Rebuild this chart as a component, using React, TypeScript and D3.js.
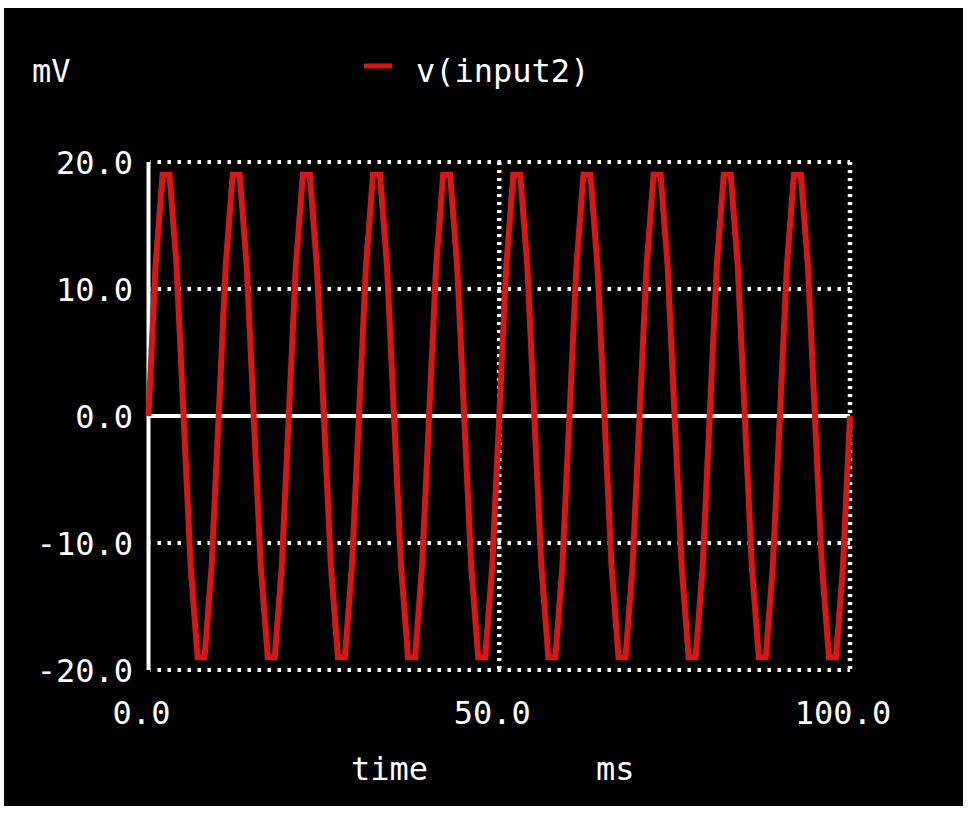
import React from "react";
import * as d3 from "d3";

// v(input2) in mV, sampled every 1 ms from 0 to 100 ms
const SAMPLE_STEP_MS = 1;
const VALUES = [
  0, 11.8, 19.0, 19.0, 11.8, 0, -11.8, -19.0, -19.0, -11.8,
  0, 11.8, 19.0, 19.0, 11.8, 0, -11.8, -19.0, -19.0, -11.8,
  0, 11.8, 19.0, 19.0, 11.8, 0, -11.8, -19.0, -19.0, -11.8,
  0, 11.8, 19.0, 19.0, 11.8, 0, -11.8, -19.0, -19.0, -11.8,
  0, 11.8, 19.0, 19.0, 11.8, 0, -11.8, -19.0, -19.0, -11.8,
  0, 11.8, 19.0, 19.0, 11.8, 0, -11.8, -19.0, -19.0, -11.8,
  0, 11.8, 19.0, 19.0, 11.8, 0, -11.8, -19.0, -19.0, -11.8,
  0, 11.8, 19.0, 19.0, 11.8, 0, -11.8, -19.0, -19.0, -11.8,
  0, 11.8, 19.0, 19.0, 11.8, 0, -11.8, -19.0, -19.0, -11.8,
  0, 11.8, 19.0, 19.0, 11.8, 0, -11.8, -19.0, -19.0, -11.8,
  0,
];
const Y_TICKS = [20, 10, 0, -10, -20];
const X_TICKS = [0, 50, 100];
const SERIES_NAME = "v(input2)";
const Y_UNIT = "mV";
const X_LABEL = "time";
const X_UNIT = "ms";

const W = 972;
const H = 814;
const FONT = "'DejaVu Sans Mono', 'Liberation Mono', monospace";
const FS = 32;
const RED = "#d81616";

export default function App() {
  const x = d3.scaleLinear().domain([0, 100]).range([148.5, 850]);
  const y = d3.scaleLinear().domain([-20, 20]).range([670, 162]);
  const line = d3
    .line<number>()
    .x((_, i) => x(i * SAMPLE_STEP_MS))
    .y((d) => y(d));

  return (
    <svg
      width={W}
      height={H}
      style={{ position: "absolute", left: 0, top: 0, background: "#fff" }}
    >
      <rect x={4} y={8} width={959} height={798} fill="#000" />
      {/* horizontal grid */}
      {Y_TICKS.filter((t) => t !== 0).map((t) => (
        <line
          key={"hy" + t}
          x1={x(0) + 2}
          x2={x(100)}
          y1={y(t)}
          y2={y(t)}
          stroke="#fff"
          strokeWidth={4}
          strokeDasharray="3.5 6.5"
          strokeDashoffset={-7}
        />
      ))}
      {/* vertical grid */}
      {X_TICKS.filter((t) => t !== 0).map((t) => (
        <line
          key={"vx" + t}
          x1={x(t)}
          x2={x(t)}
          y1={y(20)}
          y2={y(-20)}
          stroke="#fff"
          strokeWidth={4.5}
          strokeDasharray="3 5"
        />
      ))}
      {/* zero line and left axis */}
      <line x1={x(0)} x2={x(100)} y1={y(0)} y2={y(0)} stroke="#fff" strokeWidth={4} />
      <line x1={x(0)} x2={x(0)} y1={y(20)} y2={y(-20)} stroke="#fff" strokeWidth={4} />

      {/* series */}
      <path
        d={line(VALUES) || ""}
        fill="none"
        stroke={RED}
        strokeWidth={6}
        strokeLinejoin="miter"
      />

      {/* y tick labels */}
      {Y_TICKS.map((t) => (
        <text
          key={"yl" + t}
          x={133}
          y={y(t)}
          dy="0.36em"
          textAnchor="end"
          fill="#fff"
          fontFamily={FONT}
          fontSize={FS}
        >
          {t.toFixed(1)}
        </text>
      ))}
      {/* x tick labels */}
      {X_TICKS.map((t) => (
        <text
          key={"xl" + t}
          x={x(t) - 7}
          y={724}
          textAnchor="middle"
          fill="#fff"
          fontFamily={FONT}
          fontSize={FS}
        >
          {t.toFixed(1)}
        </text>
      ))}
      {/* unit */}
      <text x={32} y={82} fill="#fff" fontFamily={FONT} fontSize={FS}>
        {Y_UNIT}
      </text>
      {/* legend */}
      <line x1={364} x2={392} y1={66} y2={66} stroke={RED} strokeWidth={5} />
      <text x={416} y={82} fill="#fff" fontFamily={FONT} fontSize={FS}>
        {SERIES_NAME}
      </text>
      {/* x axis label */}
      <text x={351} y={780} fill="#fff" fontFamily={FONT} fontSize={FS}>
        {X_LABEL}
      </text>
      <text x={596} y={780} fill="#fff" fontFamily={FONT} fontSize={FS}>
        {X_UNIT}
      </text>
    </svg>
  );
}
